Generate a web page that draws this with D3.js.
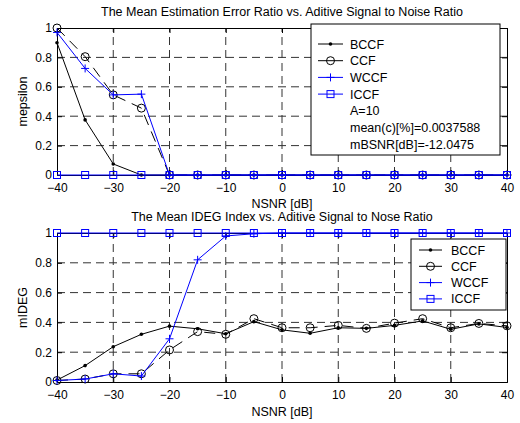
<!DOCTYPE html>
<html><head><meta charset="utf-8">
<script src="https://cdn.jsdelivr.net/npm/d3@7/dist/d3.min.js"></script>
<style>
body{margin:0;background:#fff;}
text{font-family:"Liberation Sans",Arial,sans-serif;}
</style></head>
<body><svg id="c" width="520" height="423"></svg>
<script>
const nsnr = [-40,-35,-30,-25,-20,-15,-10,-5,0,5,10,15,20,25,30,35,40];
const xTicks = [-40,-30,-20,-10,0,10,20,30,40];
const yTicks = [0,0.2,0.4,0.6,0.8,1];
const yTickLabels = ["0","0.2","0.4","0.6","0.8","1"];
const seriesNames = ["BCCF","CCF","WCCF","ICCF"];

// top plot: mean estimation error ratio
const topBCCF = [0.9,0.375,0.075,0,0,0,0,0,0,0,0,0,0,0,0,0,0];
const topCCF  = [1.0,0.805,0.545,0.455,0,0,0,0,0,0,0,0,0,0,0,0,0];
const topWCCF = [0.97,0.725,0.545,0.55,0,0,0,0,0,0,0,0,0,0,0,0,0];
const topICCF = [0,0,0,0,0,0,0,0,0,0,0,0,0,0,0,0,0];

// bottom plot: mean IDEG index
const botBCCF = [0.013,0.11,0.237,0.32,0.375,0.357,0.324,0.405,0.35,0.327,0.364,0.36,0.38,0.41,0.354,0.39,0.366];
const botCCF  = [0.01,0.02,0.055,0.055,0.215,0.338,0.32,0.425,0.364,0.364,0.38,0.36,0.395,0.425,0.364,0.393,0.377];
const botWCCF = [0.01,0.02,0.055,0.04,0.29,0.82,0.98,0.995,1,1,1,1,1,1,1,1,1];
const botICCF = [1,1,1,1,1,1,1,1,1,1,1,1,1,1,1,1,1];

const topExtra = ["A=10","mean(c)[%]=0.0037588","mBSNR[dB]=-12.0475"];

const svg = d3.select("#c");

function panel(cfg){
  const x = d3.scaleLinear().domain([-40,40]).range([57,507]);
  const y = d3.scaleLinear().domain([0,1]).range([cfg.y0,cfg.y1]);
  const g = svg.append("g");
  // grid
  xTicks.forEach(t=>{
    if(t===-40||t===40) return;
    g.append("line").attr("x1",x(t)).attr("x2",x(t)).attr("y1",y(0)).attr("y2",y(1))
      .attr("stroke","#333").attr("stroke-width",1).attr("stroke-dasharray","8,5");
  });
  yTicks.forEach(t=>{
    if(t===0||t===1) return;
    g.append("line").attr("x1",x(-40)).attr("x2",x(40)).attr("y1",y(t)).attr("y2",y(t))
      .attr("stroke","#333").attr("stroke-width",1).attr("stroke-dasharray","8,5");
  });
  // axes
  const ax = d3.axisBottom(x).tickValues(xTicks).tickSize(-5).tickPadding(8).tickFormat(d3.format("d"));
  const axT = d3.axisTop(x).tickValues(xTicks).tickSize(-5).tickFormat("");
  const ay = d3.axisLeft(y).tickValues(yTicks).tickSize(-5).tickPadding(5).tickFormat((d,i)=>yTickLabels[i]);
  const ayR = d3.axisRight(y).tickValues(yTicks).tickSize(-5).tickFormat("");
  [[ax,`translate(0,${y(0)})`],[axT,`translate(0,${y(1)})`],[ay,`translate(${x(-40)},0)`],[ayR,`translate(${x(40)},0)`]].forEach(([a,tr])=>{
    const ag = g.append("g").attr("transform",tr).call(a);
    ag.selectAll("path").attr("stroke","#000").attr("stroke-width",1);
    ag.selectAll("line").attr("stroke","#000");
    ag.selectAll("text").attr("font-size",12).attr("fill","#000").attr("font-family","Liberation Sans, Arial, sans-serif");
  });
  // title & labels
  g.append("text").attr("x",282).attr("y",cfg.titleY).attr("text-anchor","middle").attr("font-size",12.5).text(cfg.title);
  g.append("text").attr("x",282).attr("y",cfg.xlabY).attr("text-anchor","middle").attr("font-size",12.5).text("NSNR [dB]");
  g.append("text").attr("transform",`translate(27,${(y(0)+y(1))/2}) rotate(-90)`).attr("text-anchor","middle").attr("font-size",12.5).text(cfg.ylab);

  const line = d3.line().x((d,i)=>x(nsnr[i])).y(d=>y(d));
  const series = [
    {v:cfg.d[0],c:"#000",m:"dot"},
    {v:cfg.d[1],c:"#000",m:"circle",dash:"11,7"},
    {v:cfg.d[2],c:"#0000ff",m:"plus"},
    {v:cfg.d[3],c:"#0000ff",m:"square"}
  ];
  function marker(sel,m,c,cx,cy){
    if(m==="dot") sel.append("circle").attr("cx",cx).attr("cy",cy).attr("r",1.8).attr("fill",c);
    if(m==="circle") sel.append("circle").attr("cx",cx).attr("cy",cy).attr("r",4).attr("fill","none").attr("stroke",c);
    if(m==="plus"){ sel.append("path").attr("d",`M${cx-4},${cy}H${cx+4}M${cx},${cy-4}V${cy+4}`).attr("stroke",c).attr("fill","none");}
    if(m==="square") sel.append("rect").attr("x",cx-3.5).attr("y",cy-3.5).attr("width",7).attr("height",7).attr("fill","none").attr("stroke",c);
  }
  series.forEach(s=>{
    g.append("path").datum(s.v).attr("d",line).attr("fill","none").attr("stroke",s.c).attr("stroke-width",1)
      .attr("stroke-dasharray",s.dash||null);
    s.v.forEach((d,i)=>marker(g,s.m,s.c,x(nsnr[i]),y(d)));
  });
  // legend
  const L = cfg.leg;
  g.append("rect").attr("x",L.x).attr("y",L.y).attr("width",L.w).attr("height",L.h).attr("fill","#fff").attr("stroke","#000");
  const labels = seriesNames.concat(cfg.extra);
  labels.forEach((t,i)=>{
    const ry = L.y + L.r0 + i*L.dy;
    if(i<4){
      const s = series[i];
      g.append("line").attr("x1",L.lx).attr("x2",L.lx+L.lw).attr("y1",ry).attr("y2",ry).attr("stroke",s.c);
      marker(g,s.m,s.c,L.lx+L.lw/2,ry);
    }
    g.append("text").attr("x",L.tx).attr("y",ry+4.5).attr("font-size",12.5).text(t);
  });
}

panel({y0:175,y1:28,title:"The Mean Estimation Error Ratio vs. Aditive Signal to Noise Ratio",titleY:16,xlabY:208,ylab:"mepsilon",
  d:[topBCCF,topCCF,topWCCF,topICCF],extra:topExtra,
  leg:{x:311,y:24,w:189,h:131,r0:20,dy:16.7,lx:318,lw:25,tx:350}});
panel({y0:382,y1:233,title:"The Mean IDEG Index vs. Aditive Signal to Nose Ratio",titleY:221,xlabY:416,ylab:"mIDEG",
  d:[botBCCF,botCCF,botWCCF,botICCF],extra:[],
  leg:{x:411,y:239,w:95,h:71,r0:11,dy:16.3,lx:419,lw:23,tx:451}});
</script></body></html>
